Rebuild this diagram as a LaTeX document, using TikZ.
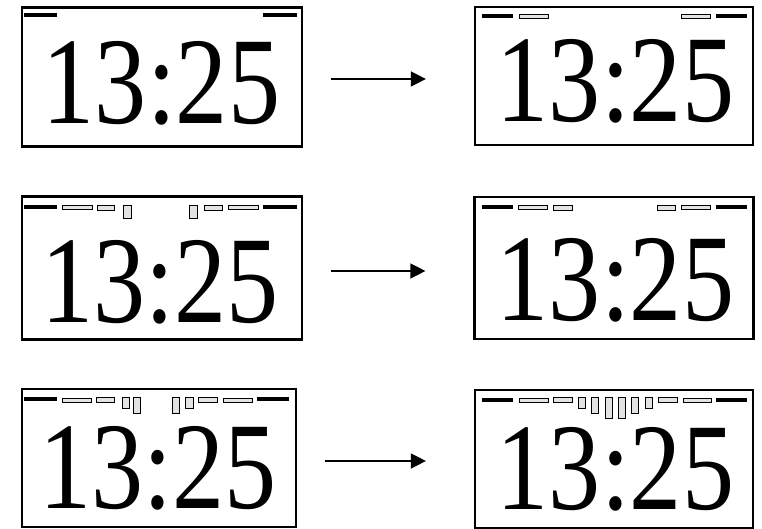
\documentclass[tikz,border=0pt]{standalone}
\usepackage{fontspec}
\setmainfont{Liberation Serif}
\usetikzlibrary{arrows.meta}
\begin{document}
\begin{tikzpicture}[x=1pt,y=-1pt,
  clockbox/.style={draw=black, line width=2.2pt, inner sep=0pt, fill=white},
  digits/.style={anchor=base, inner sep=0pt, text depth=0pt, font=\fontsize{124}{124}\selectfont, xscale=0.84},
  blackbar/.style={line width=3.5pt},
  hollow/.style={draw=black, fill=gray!22, line width=0.9pt},
  flow/.style={line width=1.4pt, -{Triangle[length=15pt, width=15pt]}, shorten <=28pt, shorten >=48pt}]
\useasboundingbox (0,0) rectangle (762,529);
% ---- row 1 ----
\node[clockbox, minimum width=280pt, minimum height=139pt] (b1) at (162,77) {};
\node[clockbox, minimum width=278pt, minimum height=138pt] (b2) at (614,76) {};
\node[digits] (t1) at (161.5,124) {13:25};
\node[digits] (t2) at (615.5,122) {13:25};
\draw[blackbar] (24,15) -- (57,15);
\draw[blackbar] (263,15) -- (297,15);
\draw[blackbar] (482,16) -- (513,16);
\draw[hollow] (519,14) rectangle (548,18);
\draw[hollow] (681,14) rectangle (710,18);
\draw[blackbar] (716,16) -- (747,16);
\draw[flow] (b1.east |- 0,79) -- (b2.west |- 0,79);
% ---- row 2 ----
\node[clockbox, minimum width=280pt, minimum height=143pt] (b3) at (162,268) {};
\node[clockbox, minimum width=279pt, minimum height=142pt] (b4) at (614,268) {};
\node[digits] (t3) at (160,322) {13:25};
\node[digits] (t4) at (615.5,320) {13:25};
\draw[blackbar] (24,207) -- (57,207);
\draw[hollow] (62,205) rectangle (92,209);
\draw[hollow] (97,205) rectangle (114,210);
\draw[hollow] (123,205) rectangle (131,218);
\draw[hollow] (189,205) rectangle (197,218);
\draw[hollow] (204,205) rectangle (222,210);
\draw[hollow] (228,205) rectangle (258,209);
\draw[blackbar] (263,207) -- (297,207);
\draw[blackbar] (482,207) -- (513,207);
\draw[hollow] (518,205) rectangle (547,209);
\draw[hollow] (553,205) rectangle (572,210);
\draw[hollow] (657,205) rectangle (675,210);
\draw[hollow] (681,205) rectangle (710,209);
\draw[blackbar] (716,207) -- (747,207);
% ---- row 3 ----
\node[clockbox, minimum width=274pt, minimum height=138pt] (b5) at (159,458) {};
\node[clockbox, minimum width=278pt, minimum height=138pt] (b6) at (614,459) {};
\node[digits] (t5) at (158,508) {13:25};
\node[digits] (t6) at (615.5,509) {13:25};
\draw[blackbar] (24,399) -- (57,399);
\draw[hollow] (62,398) rectangle (91,402);
\draw[hollow] (96,397) rectangle (114,402);
\draw[hollow] (122,397) rectangle (129,408);
\draw[hollow] (133,397) rectangle (140,413);
\draw[hollow] (172,397) rectangle (179,413);
\draw[hollow] (185,397) rectangle (193,408);
\draw[hollow] (198,397) rectangle (217,402);
\draw[hollow] (223,398) rectangle (252,402);
\draw[blackbar] (257,399) -- (289,399);
\draw[blackbar] (482,400) -- (513,400);
\draw[hollow] (519,398) rectangle (548,402);
\draw[hollow] (553,397) rectangle (572,402);
\draw[hollow] (578,397) rectangle (585,408);
\draw[hollow] (591,397) rectangle (598,413);
\draw[hollow] (605,397) rectangle (612,418);
\draw[hollow] (618,397) rectangle (625,418);
\draw[hollow] (631,397) rectangle (638,413);
\draw[hollow] (645,397) rectangle (652,408);
\draw[hollow] (658,397) rectangle (677,402);
\draw[hollow] (683,398) rectangle (711,402);
\draw[blackbar] (716,400) -- (747,400);
% ---- arrows ----
\draw[flow] (b3.east |- 0,271) -- (b4.west |- 0,271);
\draw[flow] (b5.east |- 0,461) -- (b6.west |- 0,461);
\end{tikzpicture}
\end{document}
